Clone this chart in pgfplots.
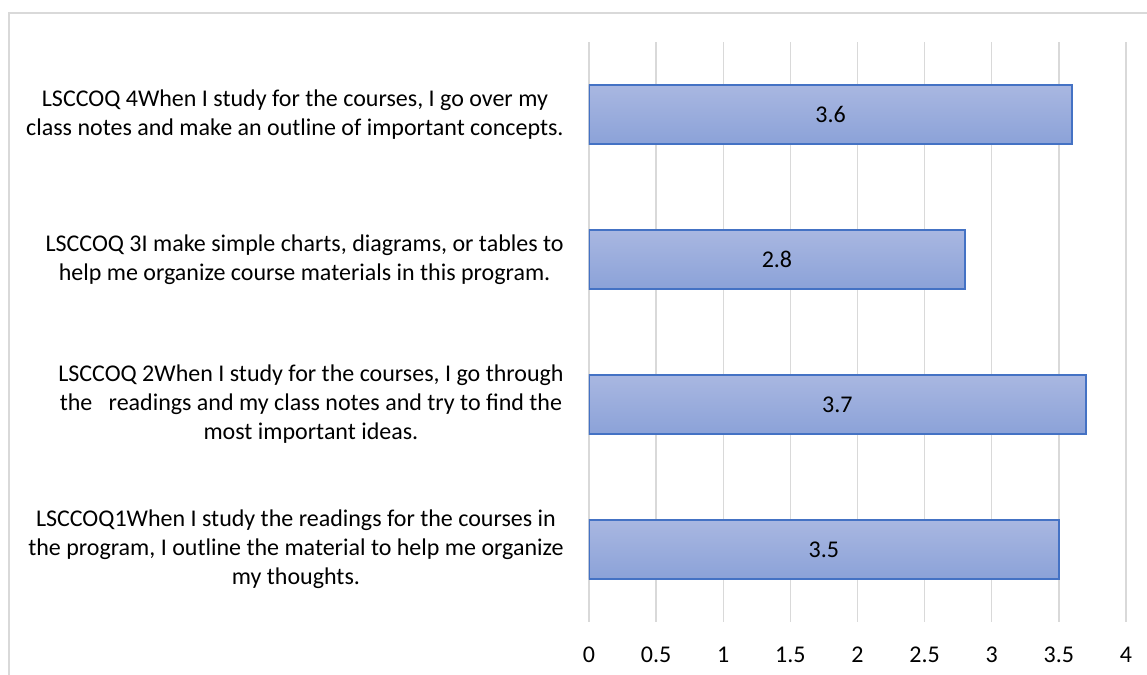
\documentclass[border=0pt]{standalone}
\usepackage{fontspec}
\setmainfont{Carlito}
\usepackage{pgfplots}
\usepackage{pgfplotstable}
\pgfplotsset{compat=1.18}
\definecolor{barTop}{HTML}{A9B7E1}
\definecolor{barBot}{HTML}{8BA2D8}
\definecolor{barEdge}{HTML}{4472C4}
\definecolor{gridc}{HTML}{D9D9D9}
\pgfplotstableread{
y v
0 3.5
1 3.7
2 2.8
3 3.6
}\datatab
\begin{document}
\begin{tikzpicture}
\useasboundingbox (0,0) rectangle (573.5pt,337.5pt);
\clip (0,0) rectangle (573.5pt,337.5pt);
\draw[gridc, line width=0.75pt] (4.5pt,-10pt) -- (4.5pt,331pt) -- (600pt,331pt);
\begin{axis}[
 at={(294.5pt,26.5pt)}, anchor=south west,
 scale only axis, width=268.5pt, height=290pt,
 xmin=0, xmax=4, ymin=-0.5, ymax=3.5,
 xtick={0,0.5,1,1.5,2,2.5,3,3.5,4}, ytick={0,1,2,3},
 yticklabels={
  {LSCCOQ1When I study the readings for the courses in\\the program, I outline the material to help me organize\\my thoughts.},
  {LSCCOQ 2When I study for the courses, I go through\\the\ \ \ readings and my class notes and try to find the\\most important ideas.},
  {LSCCOQ 3I make simple charts, diagrams, or tables to\\help me organize course materials in this program.},
  {LSCCOQ 4When I study for the courses, I go over my\\class notes and make an outline of important concepts.}
 },
 axis line style={draw=none},
 major tick length=0pt,
 xmajorgrids, major grid style={gridc, line width=0.65pt},
 /pgf/number format/assume math mode=true,
 tick label style={font=\fontsize{12}{14.5}\selectfont, text=black},
 xticklabel style={anchor=center, yshift=-16.5pt, inner sep=0pt},
 yticklabel style={anchor=east, xshift=-12.5pt, inner sep=0pt, align=center},
 barstyle/.style={xbar, bar width=29.5pt, draw=barEdge, line width=1pt, top color=barTop, bottom color=barBot},
]
\addplot[barstyle] coordinates {(3.5,0)};
\addplot[barstyle] coordinates {(3.7,1)};
\addplot[barstyle] coordinates {(2.8,2)};
\addplot[barstyle] coordinates {(3.6,3)};
\addplot[draw=none, mark=none, nodes near coords, point meta=explicit,
  every node near coord/.append style={anchor=center, font=\fontsize{12}{14.5}\selectfont, text=black}]
  table[x expr=\thisrow{v}/2, y=y, meta=v]{\datatab};
\end{axis}
\end{tikzpicture}
\end{document}
